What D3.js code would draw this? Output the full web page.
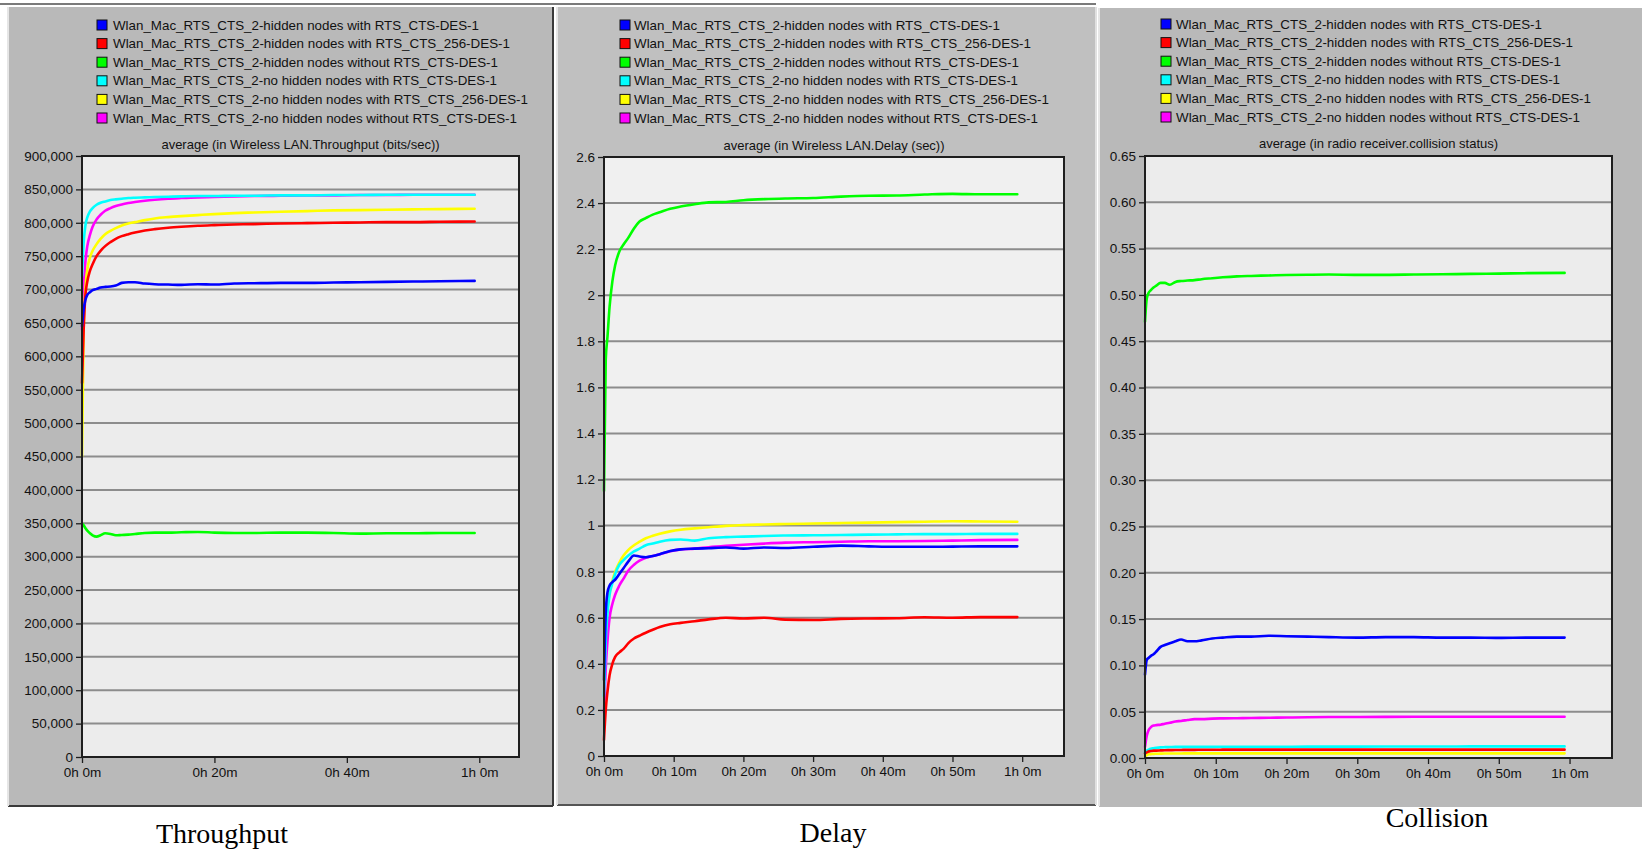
<!DOCTYPE html>
<html><head><meta charset="utf-8">
<script src="https://cdn.jsdelivr.net/npm/d3@7"></script>
<style>body{margin:0;background:#fff;} svg{display:block;}</style>
</head><body><svg id="c" width="1642" height="851"></svg>
<script>
// ---------- data ----------
const seriesNames = [
  "Wlan_Mac_RTS_CTS_2-hidden nodes with RTS_CTS-DES-1",
  "Wlan_Mac_RTS_CTS_2-hidden nodes with RTS_CTS_256-DES-1",
  "Wlan_Mac_RTS_CTS_2-hidden nodes without RTS_CTS-DES-1",
  "Wlan_Mac_RTS_CTS_2-no hidden nodes with RTS_CTS-DES-1",
  "Wlan_Mac_RTS_CTS_2-no hidden nodes with RTS_CTS_256-DES-1",
  "Wlan_Mac_RTS_CTS_2-no hidden nodes without RTS_CTS-DES-1"
];
const seriesColors = ["#0000ff", "#ff0000", "#00ff00", "#00ffff", "#ffff00", "#ff00ff"];
const drawOrder = [5, 4, 3, 1, 0, 2];

// sample times (minutes)
const times = [0, 0.25, 0.5, 0.8, 1.2, 1.6, 2.2, 2.8, 3.5, 4.3, 5.1, 6, 7, 8, 9.5, 11, 13, 15, 17.5, 20, 23, 26, 30, 34, 38, 42, 46, 50, 54, 59.3];

// Throughput (bits/sec)
const thrHiddenRts    = [645000,670000,684000,692000,696000,699000,701000,703000,704000,704500,706000,710000,711000,711000,709000,708000,707500,707000,708000,707500,709000,709500,710000,710000,710500,711000,711500,712000,712500,713000];
const thrHidden256    = [560000,640000,690000,712000,728000,738000,750000,758000,765000,771000,776000,780000,783000,785500,788500,790500,792500,794000,795500,796500,797500,798000,799000,799500,800000,800500,801000,801000,801500,802000];
const thrHiddenNoRts  = [350000,347000,343000,339000,335000,332000,330000,332000,335000,334000,332000,332500,333000,334000,335500,336000,336000,336500,337000,336000,335500,335500,336000,336000,335500,334500,335000,335000,335500,335500];
const thrNoHiddenRts  = [720000,770000,795000,808000,817000,822000,827000,830000,832000,834000,835000,836000,837000,837500,838000,838500,839000,839500,840000,840000,840500,840500,841000,841000,841500,841500,842000,842000,842000,842000];
const thrNoHidden256  = [450000,640000,700000,730000,748000,758000,768000,776000,783000,788000,792000,796000,799000,801000,804000,806500,808500,810000,811500,813000,814500,815500,816500,817500,818500,819000,819500,820000,820500,821000];
const thrNoHiddenNoRts= [640000,700000,740000,765000,782000,794000,805000,812000,818000,822000,825000,827500,829500,831000,833000,834500,836000,837000,838000,838500,839500,840000,840500,841000,841000,841500,841500,842000,842000,842000];

// Delay (sec)
const delHiddenRts    = [0.33,0.62,0.71,0.74,0.755,0.765,0.79,0.815,0.845,0.87,0.866,0.863,0.868,0.876,0.89,0.897,0.9,0.902,0.905,0.9,0.905,0.903,0.908,0.913,0.91,0.908,0.908,0.909,0.91,0.91];
const delHidden256    = [0.07,0.2,0.28,0.35,0.4,0.43,0.45,0.465,0.49,0.51,0.522,0.535,0.548,0.56,0.572,0.578,0.585,0.593,0.6,0.597,0.6,0.592,0.59,0.595,0.597,0.598,0.602,0.6,0.603,0.603];
const delHiddenNoRts  = [1.15,1.72,1.82,1.95,2.06,2.13,2.19,2.22,2.25,2.29,2.32,2.335,2.35,2.36,2.375,2.385,2.395,2.403,2.405,2.412,2.417,2.42,2.422,2.428,2.432,2.433,2.437,2.44,2.438,2.438];
const delNoHiddenRts  = [0.26,0.5,0.62,0.7,0.75,0.79,0.83,0.85,0.87,0.888,0.9,0.915,0.922,0.93,0.938,0.94,0.935,0.945,0.95,0.952,0.955,0.957,0.958,0.959,0.961,0.962,0.963,0.963,0.964,0.964];
const delNoHidden256  = [0.33,0.55,0.64,0.71,0.76,0.8,0.84,0.87,0.895,0.915,0.93,0.945,0.956,0.965,0.975,0.982,0.988,0.993,0.999,1.003,1.005,1.007,1.009,1.011,1.013,1.015,1.017,1.019,1.018,1.017];
const delNoHiddenNoRts= [0.19,0.38,0.5,0.6,0.66,0.7,0.74,0.77,0.805,0.83,0.848,0.86,0.868,0.876,0.889,0.897,0.9,0.906,0.912,0.917,0.922,0.926,0.928,0.93,0.932,0.932,0.933,0.935,0.937,0.938];

// Collision status
const colHiddenRts    = [0.09,0.106,0.108,0.11,0.112,0.115,0.12,0.122,0.124,0.126,0.128,0.126,0.126,0.127,0.129,0.13,0.131,0.131,0.132,0.1315,0.131,0.1305,0.13,0.1305,0.1305,0.13,0.13,0.1297,0.13,0.13];
const colHidden256    = [0.005,0.006,0.007,0.0075,0.008,0.008,0.0082,0.0084,0.0085,0.0086,0.0087,0.0088,0.0088,0.0089,0.0089,0.009,0.009,0.009,0.009,0.009,0.009,0.009,0.009,0.009,0.009,0.009,0.009,0.009,0.009,0.009];
const colHiddenNoRts  = [0.471,0.496,0.502,0.505,0.508,0.51,0.513,0.513,0.511,0.514,0.515,0.5155,0.516,0.517,0.518,0.519,0.52,0.5205,0.521,0.5215,0.5218,0.522,0.5217,0.5217,0.522,0.5223,0.5227,0.523,0.5235,0.5238];
const colNoHiddenRts  = [0.006,0.008,0.009,0.01,0.0105,0.011,0.0115,0.0117,0.0118,0.012,0.012,0.012,0.012,0.012,0.012,0.0121,0.0121,0.0122,0.0122,0.0122,0.0123,0.0123,0.0123,0.0124,0.0124,0.0124,0.0125,0.0125,0.0125,0.0125];
const colNoHidden256  = [0.002,0.003,0.004,0.0042,0.0045,0.0046,0.0047,0.0048,0.0048,0.0049,0.0049,0.005,0.005,0.005,0.005,0.005,0.005,0.005,0.005,0.005,0.005,0.005,0.005,0.005,0.005,0.005,0.005,0.005,0.005,0.005];
const colNoHiddenNoRts= [0.012,0.024,0.03,0.033,0.035,0.0355,0.036,0.037,0.038,0.0395,0.04,0.041,0.042,0.042,0.0425,0.0428,0.043,0.0432,0.0435,0.0437,0.044,0.0442,0.0443,0.0444,0.0445,0.0445,0.0446,0.0446,0.0446,0.0446];

// axis tick values
const thrTicks = d3.range(0, 900001, 50000);
const delTicks = [0,0.2,0.4,0.6,0.8,1,1.2,1.4,1.6,1.8,2,2.2,2.4,2.6];
const colTicks = [0,0.05,0.1,0.15,0.2,0.25,0.3,0.35,0.4,0.45,0.5,0.55,0.6,0.65];
const timeTicks20 = [0, 20, 40, 60];
const timeTicks10 = [0, 10, 20, 30, 40, 50, 60];
const timeDomain = [0, 66];

const subtitles = [
  "average (in Wireless LAN.Throughput (bits/sec))",
  "average (in Wireless LAN.Delay (sec))",
  "average (in radio receiver.collision status)"
];
const captions = ["Throughput", "Delay", "Collision"];

// ---------- layout ----------
const legendTextWidths = [366, 397, 385, 384, 415, 404];

// ---------- drawing ----------
const svg = d3.select("#c");
const SANS = "'Liberation Sans', Arial, sans-serif";
const SERIF = "'Liberation Serif', 'Times New Roman', serif";

function fmtTime(m) { return Math.floor(m / 60) + "h " + (m % 60) + "m"; }

function drawPanel(cfg) {
  const g = svg.append("g");
  const P = cfg.panel;
  g.append("rect").attr("x", P.x).attr("y", P.y).attr("width", P.w).attr("height", P.h)
    .attr("fill", cfg.panelFill);
  g.append("line").attr("x1", P.x).attr("x2", P.x + P.w).attr("y1", P.y + P.h).attr("y2", P.y + P.h)
    .attr("stroke", cfg.bottomEdge).attr("stroke-width", 2);
  if (cfg.rightEdge) g.append("line").attr("x1", P.x + P.w).attr("x2", P.x + P.w).attr("y1", P.y).attr("y2", P.y + P.h)
    .attr("stroke", cfg.rightEdge).attr("stroke-width", 2);
  g.append("line").attr("x1", P.x).attr("x2", P.x).attr("y1", P.y).attr("y2", P.y + P.h)
    .attr("stroke", "#e6e6e6").attr("stroke-width", 2);

  const L = cfg.plot;
  const x = d3.scaleLinear().domain(timeDomain).range([L.l, L.r]);
  const y = d3.scaleLinear().domain(cfg.yDomain).range([L.b, L.t]);

  g.append("rect").attr("x", L.l).attr("y", L.t).attr("width", L.r - L.l).attr("height", L.b - L.t)
    .attr("fill", cfg.plotFill);

  const gridVals = cfg.yTicks.filter(v => v > cfg.yDomain[0] && v < cfg.yDomain[1]);
  g.selectAll(".grid").data(gridVals).enter().append("line")
    .attr("x1", L.l).attr("x2", L.r).attr("y1", d => y(d)).attr("y2", d => y(d))
    .attr("stroke", "#8c8c8c").attr("stroke-width", 2);

  const line = d3.line().x((d, i) => x(times[i])).y(d => y(d)).curve(d3.curveMonotoneX);
  drawOrder.forEach(k => {
    g.append("path").datum(cfg.series[k]).attr("d", line)
      .attr("fill", "none").attr("stroke", seriesColors[k]).attr("stroke-width", 2.6)
      .attr("stroke-linejoin", "round").attr("stroke-linecap", "round");
  });

  g.append("rect").attr("x", L.l).attr("y", L.t).attr("width", L.r - L.l).attr("height", L.b - L.t)
    .attr("fill", "none").attr("stroke", "#1e1e1e").attr("stroke-width", 2);

  const ya = d3.axisLeft(y).tickValues(cfg.yTicks).tickSize(6).tickPadding(3).tickFormat(cfg.yFormat);
  const yg = g.append("g").attr("transform", `translate(${L.l},0)`).call(ya);
  yg.select(".domain").remove();
  yg.selectAll("line").attr("stroke", "#1e1e1e").attr("stroke-width", 1.3);
  yg.selectAll("text").attr("font-family", SANS).attr("font-size", 13.5).attr("fill", "#111");

  const xa = d3.axisBottom(x).tickValues(cfg.xTicks).tickSize(6).tickPadding(4).tickFormat(fmtTime);
  const xg = g.append("g").attr("transform", `translate(0,${L.b})`).call(xa);
  xg.select(".domain").remove();
  xg.selectAll("line").attr("stroke", "#1e1e1e").attr("stroke-width", 1.3);
  xg.selectAll("text").attr("font-family", SANS).attr("font-size", 13.5).attr("fill", "#111");

  g.append("text").attr("x", (L.l + L.r) / 2).attr("y", cfg.subY).attr("text-anchor", "middle")
    .attr("dominant-baseline", "central").attr("font-family", SANS).attr("font-size", 13)
    .attr("fill", "#111").text(cfg.subtitle);

  const Lg = cfg.legend;
  seriesNames.forEach((n, i) => {
    const cy = Lg.y0 + i * Lg.dy;
    g.append("rect").attr("x", Lg.sqX).attr("y", cy - 5).attr("width", 10).attr("height", 10)
      .attr("fill", seriesColors[i]).attr("stroke", "#111").attr("stroke-width", 1);
    g.append("text").attr("x", Lg.textX).attr("y", cy).attr("dominant-baseline", "central")
      .attr("font-family", SANS).attr("font-size", 13.3).attr("fill", "#111")
      .attr("textLength", legendTextWidths[i]).attr("lengthAdjust", "spacingAndGlyphs").text(n);
  });

  svg.append("text").attr("x", cfg.caption.x).attr("y", cfg.caption.y).attr("text-anchor", "middle")
    .attr("font-family", SERIF).attr("font-size", 28).attr("fill", "#000").text(cfg.caption.text);
}

svg.append("line").attr("x1", 0).attr("x2", 1096).attr("y1", 4).attr("y2", 4)
  .attr("stroke", "#7a7a7a").attr("stroke-width", 2);

drawPanel({
  panel: {x: 8, y: 7, w: 545, h: 799}, panelFill: "#b9b9b9", bottomEdge: "#3a3a3a", rightEdge: "#3a3a3a",
  plot: {l: 82, t: 156, r: 519, b: 757}, plotFill: "#ececec",
  yDomain: [0, 900000], yTicks: thrTicks, yFormat: d3.format(","),
  xTicks: timeTicks20,
  series: [thrHiddenRts, thrHidden256, thrHiddenNoRts, thrNoHiddenRts, thrNoHidden256, thrNoHiddenNoRts],
  subtitle: subtitles[0], subY: 144.5,
  legend: {sqX: 97, textX: 113, y0: 25, dy: 18.6},
  caption: {x: 222, y: 843, text: captions[0]}
});

drawPanel({
  panel: {x: 557, y: 7, w: 539, h: 798}, panelFill: "#c0c0c0", bottomEdge: "#555555", rightEdge: "#e0e0e0",
  plot: {l: 604, t: 157, r: 1064, b: 756}, plotFill: "#f0f0f0",
  yDomain: [0, 2.6], yTicks: delTicks, yFormat: d => String(+d.toFixed(1)),
  xTicks: timeTicks10,
  series: [delHiddenRts, delHidden256, delHiddenNoRts, delNoHiddenRts, delNoHidden256, delNoHiddenNoRts],
  subtitle: subtitles[1], subY: 145,
  legend: {sqX: 620, textX: 634, y0: 25, dy: 18.6},
  caption: {x: 833, y: 842, text: captions[1]}
});

drawPanel({
  panel: {x: 1099, y: 8, w: 543, h: 798}, panelFill: "#b9b9b9", bottomEdge: "#b9b9b9", rightEdge: null,
  plot: {l: 1145, t: 156, r: 1612, b: 758}, plotFill: "#ececec",
  yDomain: [0, 0.65], yTicks: colTicks, yFormat: d3.format(".2f"),
  xTicks: timeTicks10,
  series: [colHiddenRts, colHidden256, colHiddenNoRts, colNoHiddenRts, colNoHidden256, colNoHiddenNoRts],
  subtitle: subtitles[2], subY: 143.5,
  legend: {sqX: 1161, textX: 1176, y0: 24, dy: 18.6},
  caption: {x: 1437, y: 827, text: captions[2]}
});
</script></body></html>
